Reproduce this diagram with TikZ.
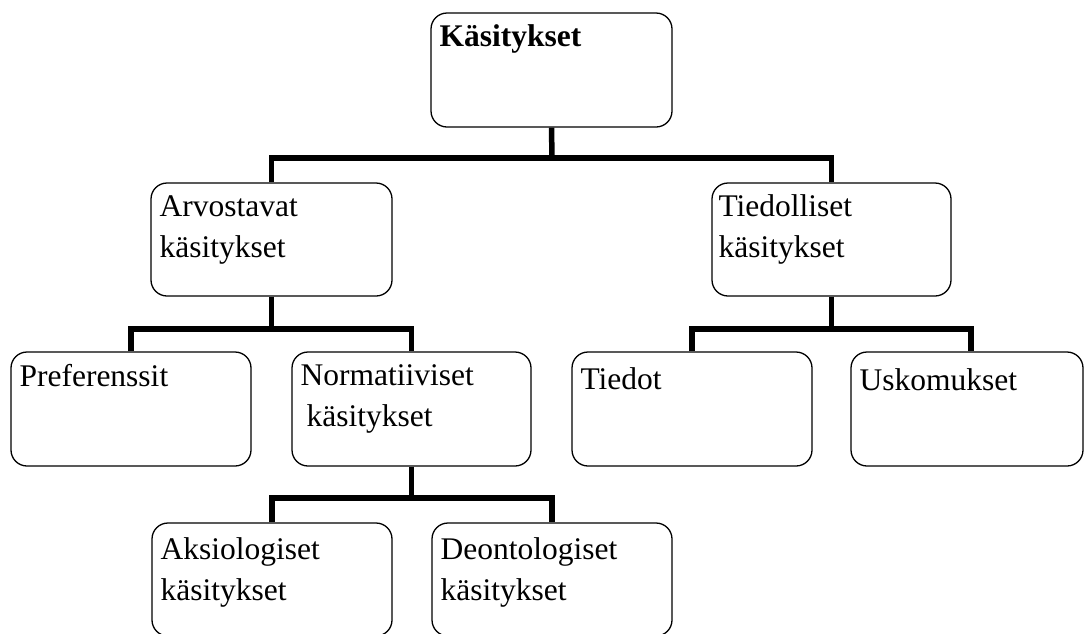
\documentclass[tikz,border=0pt]{standalone}
\usepackage{fontspec}
\setmainfont{Liberation Serif}
\begin{document}
\begin{tikzpicture}[x=1pt,y=-1pt,
  box/.style={draw=black,line width=1.3pt,rounded corners=16pt,minimum height=113pt,inner sep=0pt},
  conn/.style={draw=black,line width=5.5pt},
  txt/.style={anchor=base west,inner sep=0pt,font=\fontsize{31.5}{41}\selectfont}]
\useasboundingbox (0,0) rectangle (1084,633);
% boxes
\node[box,minimum width=241pt,minimum height=114pt] (kas) at (551.5,70) {};
\node[box,minimum width=241pt] (arv) at (271.5,239.5) {};
\node[box,minimum width=239pt] (tie) at (831.5,239.5) {};
\node[box,minimum width=240pt,minimum height=114pt] (pref) at (131,409) {};
\node[box,minimum width=239pt,minimum height=114pt] (norm) at (411.5,409) {};
\node[box,minimum width=240pt,minimum height=114pt] (tied) at (692,409) {};
\node[box,minimum width=232pt,minimum height=114pt] (usk) at (967,409) {};
\node[box,minimum width=240pt] (aks) at (272,579.5) {};
\node[box,minimum width=240pt] (deo) at (552,579.5) {};
% texts
\node[txt] (kasT) at ([shift={(9,34)}]kas.north west) {\textbf{Käsitykset}};
\node[txt] (arvT) at ([shift={(9,34)}]arv.north west) {\begin{tabular}[t]{@{}l@{}}Arvostavat\\käsitykset\end{tabular}};
\node[txt] (tieT) at ([shift={(7,34)}]tie.north west) {\begin{tabular}[t]{@{}l@{}}Tiedolliset\\käsitykset\end{tabular}};
\node[txt] (prefT) at ([shift={(9,35)}]pref.north west) {Preferenssit};
\node[txt] (normT) at ([shift={(9,34)}]norm.north west) {\begin{tabular}[t]{@{}l@{}}Normatiiviset\\\hspace{6pt}käsitykset\end{tabular}};
\node[txt] (tiedT) at ([shift={(9,38)}]tied.north west) {Tiedot};
\node[txt] (uskT) at ([shift={(9,39)}]usk.north west) {Uskomukset};
\node[txt] (aksT) at ([shift={(9,37)}]aks.north west) {\begin{tabular}[t]{@{}l@{}}Aksiologiset\\käsitykset\end{tabular}};
\node[txt] (deoT) at ([shift={(9,37)}]deo.north west) {\begin{tabular}[t]{@{}l@{}}Deontologiset\\käsitykset\end{tabular}};
% junctions
\coordinate (j1) at (552,158);
\coordinate (j2) at (271.5,329);
\coordinate (j3) at (831.5,329);
\coordinate (j4) at (411.5,498);
% connectors
\draw[conn] (kas.south) -- (j1);
\draw[conn] (arv.north) |- (j1) -| (tie.north);
\draw[conn] (arv.south) -- (j2);
\draw[conn] (pref.north) |- (j2) -| (norm.north);
\draw[conn] (tie.south) -- (j3);
\draw[conn] (tied.north) |- (j3) -| ([xshift=4pt]usk.north);
\draw[conn] (norm.south) -- (j4);
\draw[conn] (aks.north) |- (j4) -| (deo.north);
\end{tikzpicture}
\end{document}
